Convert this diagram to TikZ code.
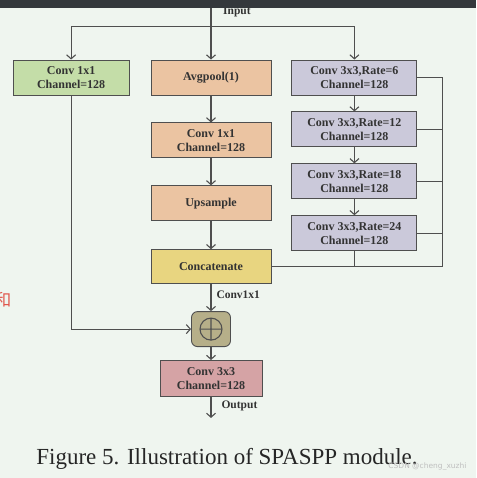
\documentclass[tikz,border=0pt]{standalone}
\usepackage{fontspec}
\setmainfont{Liberation Serif}
\newfontfamily\cjk{Noto Sans CJK SC}
\newfontfamily\wmfont{DejaVu Sans}
\usetikzlibrary{arrows.meta,positioning,calc}
\definecolor{bg}{HTML}{EFF5EF}
\definecolor{bar}{HTML}{34383C}
\definecolor{edge}{HTML}{4F4F4F}
\definecolor{txt}{HTML}{333333}
\definecolor{gr}{HTML}{C4DDA8}
\definecolor{pe}{HTML}{EBC4A2}
\definecolor{lv}{HTML}{CBC9DA}
\definecolor{ye}{HTML}{E8D580}
\definecolor{kh}{HTML}{B6AF89}
\definecolor{pk}{HTML}{D5A3A5}
\definecolor{redtxt}{HTML}{E0564C}
\tikzset{
  blk/.style={draw=edge, line width=0.9pt, align=center, minimum height=35pt, inner sep=2pt, font=\bfseries\fontsize{12}{14}\selectfont, text=txt},
  convl/.style={blk, fill=gr, minimum width=116pt},
  pool/.style={blk, fill=pe, minimum width=120pt},
  atr/.style={blk, fill=lv, minimum width=125pt},
  cat/.style={blk, fill=ye, minimum width=120pt, minimum height=34pt},
  addbox/.style={draw=edge, line width=0.9pt, fill=kh, rounded corners=6pt, minimum width=39pt, minimum height=35pt,
    path picture={\draw[edge, line width=1.1pt] (path picture bounding box.center) circle (11pt)
      ($(path picture bounding box.center)+(-11pt,0)$) -- ($(path picture bounding box.center)+(11pt,0)$)
      ($(path picture bounding box.center)+(0,-11pt)$) -- ($(path picture bounding box.center)+(0,11pt)$);}},
  outc/.style={blk, fill=pk, minimum width=102pt, minimum height=36pt},
  link/.style={draw=edge, line width=1.1pt},
  arr/.style={link, -{Straight Barb[length=4pt, width=9pt, line width=1.1pt]}},
  lbl/.style={font=\bfseries\fontsize{11.5}{13}\selectfont, text=txt, inner sep=1pt},
}

\begin{document}
\begin{tikzpicture}
  % page and bar
  \fill[bg] (-211pt,77.5pt) rectangle (265pt,-400.5pt);
  \useasboundingbox (-211pt,77.5pt) rectangle (265pt,-400.5pt);

  \node[pool] (avg) at (0,0) {Avgpool(1)};
  \node[convl, left=21pt of avg] (c1) {Conv 1x1\\Channel=128};
  \node[atr, right=20pt of avg] (r6) {Conv 3x3,Rate=6\\Channel=128};
  \node[pool, below=27pt of avg] (mid) {Conv 1x1\\Channel=128};
  \node[pool, below=27pt of mid] (up) {Upsample};
  \node[cat, below=28pt of up] (cat) {Concatenate};
  \node[atr, below=16pt of r6] (r12) {Conv 3x3,Rate=12\\Channel=128};
  \node[atr, below=16pt of r12] (r18) {Conv 3x3,Rate=18\\Channel=128};
  \node[atr, below=16pt of r18] (r24) {Conv 3x3,Rate=24\\Channel=128};
  \node[addbox, below=27pt of cat] (add) {};
  \node[outc, below=13pt of add] (out) {Conv 3x3\\Channel=128};

  \coordinate[above=60pt of avg.north] (in);
  \coordinate[above=33pt of avg.north] (split);
  \coordinate[right=25pt of r6.east] (bus);
  \coordinate[below=21pt of out.south] (end);

  % input fan-out
  \draw[arr] (in) -- (avg);
  \draw[arr] (split) -| (c1);
  \draw[arr] (split) -| (r6);
  \node[lbl, anchor=west] (inlbl) at ($(in)+(11pt,-12pt)$) {Input};

  % pooling branch
  \draw[arr] (avg) -- (mid);
  \draw[arr] (mid) -- (up);
  \draw[arr] (up) -- (cat);

  % atrous branch
  \draw[arr] (r6) -- (r12);
  \draw[arr] (r12) -- (r18);
  \draw[arr] (r18) -- (r24);
  \draw[link] (r6) -- (r6 -| bus) |- (cat);
  \draw[link] (r12) -- (r12 -| bus);
  \draw[link] (r18) -- (r18 -| bus);
  \draw[link] (r24) -- (r24 -| bus);
  \draw[link] (r24) -- (r24 |- cat);

  % fusion
  \draw[arr] (cat) -- node[lbl, right=4pt, pos=0.4] {Conv1x1} (add);
  \draw[arr] (c1) |- (add);
  \draw[arr] (add) -- (out);
  \draw[arr] (out) -- node[lbl, right=9pt, pos=0.45] {Output} (end);

  % page text
  \fill[bar] (-211pt,77.5pt) rectangle (265pt,69.5pt);
  \node[font=\fontsize{23}{26}\selectfont, text=black!85] (cap) at ($(out.south)+(16pt,-62pt)$) {Figure 5. Illustration of SPASPP module.};
  \node[font=\wmfont\fontsize{7.5}{9}\selectfont, text=black!25, anchor=east] (wm) at (259pt,-389.5pt) {CSDN @cheng\_xuzhi};
  \node[font=\cjk\fontsize{17}{20}\selectfont, text=redtxt] (side) at (-208pt,-222.5pt) {和};
\end{tikzpicture}
\end{document}
